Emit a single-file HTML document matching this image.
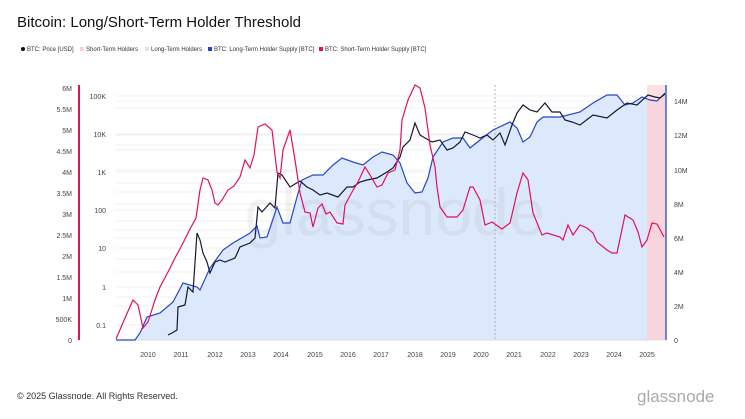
<!DOCTYPE html>
<html><head><meta charset="utf-8"><style>
body{margin:0;background:#fff;}
svg{display:block;font-family:"Liberation Sans",sans-serif;}
</style></head><body>
<svg width="745" height="419" viewBox="0 0 745 419" xmlns="http://www.w3.org/2000/svg">
<text x="17" y="27" font-size="15" fill="#111">Bitcoin: Long/Short-Term Holder Threshold</text>
<g font-size="6" fill="#333">
<circle cx="23" cy="49" r="2" fill="#111"/><text x="27" y="51">BTC: Price [USD]</text>
<rect x="80" y="47" width="4" height="4" fill="#fbd0d6"/><text x="86" y="51">Short-Term Holders</text>
<rect x="145" y="47" width="4" height="4" fill="#d6e4fa"/><text x="151" y="51">Long-Term Holders</text>
<rect x="208" y="47" width="4" height="4" fill="#2546c9"/><text x="214" y="51">BTC: Long-Term Holder Supply [BTC]</text>
<rect x="319" y="47" width="4" height="4" fill="#e0115f"/><text x="325" y="51">BTC: Short-Term Holder Supply [BTC]</text>
</g>
<g stroke="#ececec" stroke-width="0.8">
<line x1="116" x2="666" y1="96" y2="96"/><line x1="116" x2="666" y1="101" y2="101"/><line x1="116" x2="666" y1="108" y2="108"/>
<line x1="116" x2="666" y1="134" y2="134"/><line x1="116" x2="666" y1="135" y2="135"/><line x1="116" x2="666" y1="145" y2="145"/><line x1="116" x2="666" y1="150" y2="150"/>
<line x1="116" x2="666" y1="172" y2="172"/><line x1="116" x2="666" y1="170" y2="170"/><line x1="116" x2="666" y1="183" y2="183"/><line x1="116" x2="666" y1="192" y2="192"/>
<line x1="116" x2="666" y1="204" y2="204"/><line x1="116" x2="666" y1="210" y2="210"/><line x1="116" x2="666" y1="221" y2="221"/><line x1="116" x2="666" y1="230" y2="230"/>
<line x1="116" x2="666" y1="238" y2="238"/><line x1="116" x2="666" y1="248" y2="248"/><line x1="116" x2="666" y1="259" y2="259"/><line x1="116" x2="666" y1="272" y2="272"/>
<line x1="116" x2="666" y1="287" y2="287"/><line x1="116" x2="666" y1="297" y2="297"/><line x1="116" x2="666" y1="306" y2="306"/><line x1="116" x2="666" y1="325" y2="325"/>
</g>
<rect x="647" y="85" width="19" height="255" fill="#fde0e3"/>
<path fill="#dce8fb" d="M116,340 L135,340 140,333 147,317 160,313 173,302 183,283 197,287 200,290 210,268 223,250 233,243 250,233 257,226 260,238 267,237 277,207 283,223 290,223 297,197 302,180 313,175 323,175 333,165 342,158 353,162 363,165 373,157 382,152 393,155 400,163 407,183 415,193 422,192 428,178 433,157 443,142 453,138 463,138 470,148 480,140 493,130 510,122 517,128 523,142 530,137 537,122 543,117 560,117 580,112 593,103 607,95 617,95 625,105 633,103 642,97 647,99 647,340 Z"/>
<path fill="#f8d5dc" d="M647,99 L650,100 657,101 665,93 666,93 666,340 647,340Z"/>
<text x="395" y="235" font-size="66" fill="#888" fill-opacity="0.1" text-anchor="middle">glassnode</text>
<line x1="495" x2="495" y1="85" y2="340" stroke="#999" stroke-width="0.7" stroke-dasharray="2,2"/>
<line x1="116" x2="666" y1="340" y2="340" stroke="#ddd" stroke-width="1"/>
<polyline fill="none" stroke="#2546c9" stroke-width="1.2" points="116,340 135,340 140,333 147,317 160,313 173,302 183,283 197,287 200,290 210,268 223,250 233,243 250,233 257,226 260,238 267,237 277,207 283,223 290,223 297,197 302,180 313,175 323,175 333,165 342,158 353,162 363,165 373,157 382,152 393,155 400,163 407,183 415,193 422,192 428,178 433,157 443,142 453,138 463,138 470,148 480,140 493,130 510,122 517,128 523,142 530,137 537,122 543,117 560,117 580,112 593,103 607,95 617,95 625,105 633,103 642,97 650,100 657,101 665,93"/>
<polyline fill="none" stroke="#141a2e" stroke-width="1.2" points="168,335 172,333 177,330 178,307 185,305 188,287 193,292 197,233 200,240 203,253 207,262 210,273 215,262 220,260 225,262 235,258 240,247 250,243 255,238 258,207 262,212 270,203 275,208 278,173 282,175 290,187 300,181 307,187 313,190 320,195 327,193 338,197 347,187 353,187 360,182 367,180 377,178 387,172 393,168 400,157 403,147 410,140 415,123 420,135 425,138 432,142 440,140 447,150 453,148 460,142 465,132 473,135 480,138 487,135 493,140 500,133 505,145 512,125 517,113 523,105 530,110 537,112 545,103 552,112 560,112 565,120 572,122 580,125 593,115 607,118 617,110 627,103 637,105 648,95 655,97 660,98 665,94"/>
<polyline fill="none" stroke="#e0115f" stroke-width="1.2" points="116,339 125,318 133,300 138,305 143,328 148,322 155,300 160,287 168,272 175,258 182,245 190,229 196,218 200,190 203,178 208,180 212,190 215,203 218,205 222,200 228,190 234,186 240,177 245,160 250,168 254,155 258,127 265,124 272,130 277,172 280,178 283,150 290,130 295,160 300,193 305,212 310,213 313,227 318,208 322,204 326,214 330,212 337,223 343,224 345,205 352,192 358,182 365,167 370,175 377,187 382,185 388,173 395,170 400,150 402,120 408,100 415,85 420,88 425,108 430,145 435,167 437,187 440,207 447,217 457,217 463,210 470,187 473,187 480,200 485,225 492,222 502,229 510,223 517,193 523,173 528,180 533,213 542,235 547,233 560,237 563,240 568,225 573,235 580,225 587,228 593,233 597,242 607,250 612,253 617,253 625,215 633,220 638,232 642,247 647,240 652,223 657,224 664,237"/>
<line x1="79" x2="79" y1="85" y2="340" stroke="#e0115f" stroke-width="2"/>
<line x1="666" x2="666" y1="85" y2="340" stroke="#2546c9" stroke-width="1.3"/>
<g font-size="7" fill="#444" text-anchor="end">
<text x="72" y="91">6M</text><text x="72" y="112">5.5M</text><text x="72" y="133">5M</text><text x="72" y="154">4.5M</text><text x="72" y="175">4M</text><text x="72" y="196">3.5M</text><text x="72" y="217">3M</text><text x="72" y="238">2.5M</text><text x="72" y="259">2M</text><text x="72" y="280">1.5M</text><text x="72" y="301">1M</text><text x="72" y="322">500K</text><text x="72" y="343">0</text>
<text x="106" y="99">100K</text><text x="106" y="137">10K</text><text x="106" y="175">1K</text><text x="106" y="213">100</text><text x="106" y="251">10</text><text x="106" y="290">1</text><text x="106" y="328">0.1</text>
</g>
<g font-size="7" fill="#444">
<text x="674" y="104">14M</text><text x="674" y="138">12M</text><text x="674" y="173">10M</text><text x="674" y="207">8M</text><text x="674" y="241">6M</text><text x="674" y="275">4M</text><text x="674" y="309">2M</text><text x="674" y="343">0</text>
</g>
<g font-size="7" fill="#444" text-anchor="middle">
<text x="148" y="357">2010</text><text x="181" y="357">2011</text><text x="215" y="357">2012</text><text x="248" y="357">2013</text><text x="281" y="357">2014</text><text x="315" y="357">2015</text><text x="348" y="357">2016</text><text x="381" y="357">2017</text><text x="415" y="357">2018</text><text x="448" y="357">2019</text><text x="481" y="357">2020</text><text x="514" y="357">2021</text><text x="548" y="357">2022</text><text x="581" y="357">2023</text><text x="614" y="357">2024</text><text x="647" y="357">2025</text>
</g>
<text x="17" y="399" font-size="9" fill="#333">© 2025 Glassnode. All Rights Reserved.</text>
<text x="637" y="402" font-size="17" fill="#aaa">glassnode</text>
</svg>
</body></html>
